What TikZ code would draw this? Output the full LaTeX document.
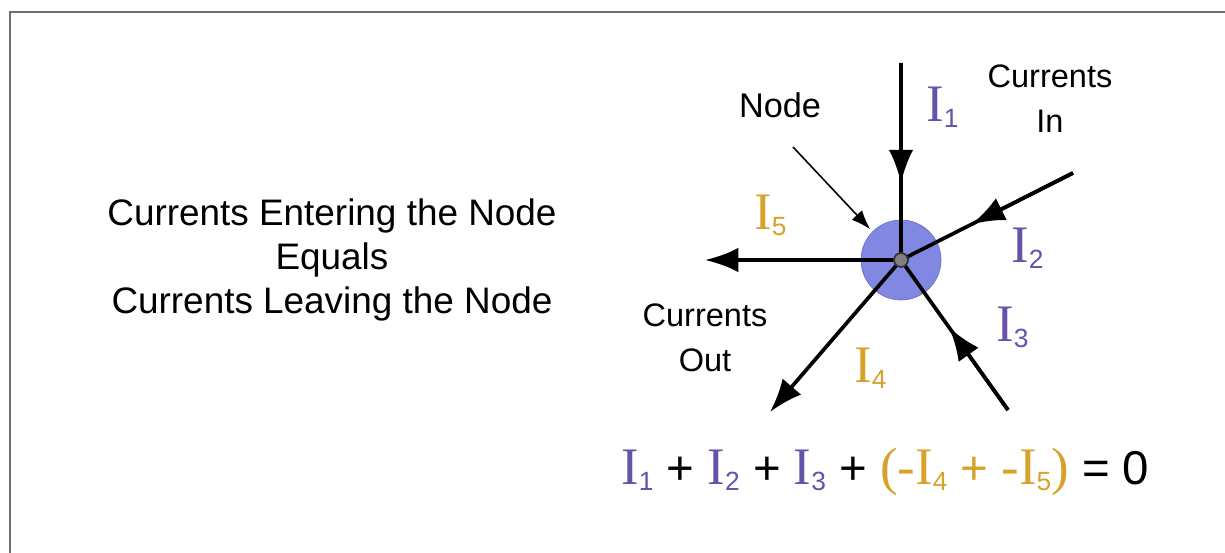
\documentclass[tikz,border=0pt]{standalone}
\usepackage{fontspec}
\setmainfont{Liberation Sans}
\newfontfamily\serifI{Liberation Serif}
\usepackage{tikz}
\usetikzlibrary{arrows.meta,calc}
\usepackage{xcolor}

\definecolor{inclr}{RGB}{102,82,170}
\definecolor{outclr}{RGB}{214,162,42}
\definecolor{nodeclr}{RGB}{128,136,226}
\definecolor{frameclr}{RGB}{110,110,110}

% current symbol: serif I with a small sans subscript
\newcommand{\Icur}[1]{{\serifI\fontsize{30}{32}\selectfont I}\raisebox{-3pt}{\fontsize{15}{16}\selectfont #1}}
\newcommand{\serifbig}{\serifI\fontsize{30}{32}\selectfont}

\tikzset{
  wire/.style={line width=2.1pt},
  bighead/.style={-{Latex[length=19pt,width=14pt]}},
  lbl/.style={font=\fontsize{18.5}{25.5}\selectfont, align=center, inner sep=0pt},
  curlbl/.style={anchor=base west, inner sep=0pt},
}

\begin{document}
\begin{tikzpicture}[x=0.02cm, y=-0.02cm]

  \useasboundingbox (0,0) rectangle (1225,553);

  % Frame
  \draw[frameclr, line width=1.6pt] (10,553) -- (10,12) -- (1225,12);

  % Junction
  \node[circle, fill=nodeclr, draw=nodeclr!85!black, minimum size=1.6cm, inner sep=0pt] (junction) at (901,260) {};

  % Wire ends
  \coordinate (in1) at (901,63);
  \coordinate (in2) at (1073,173);
  \coordinate (in3) at (1008,410);
  \coordinate (out4) at (770,412);
  \coordinate (out5) at (705,260);

  % Wires
  \draw[wire] (in1) -- (junction.center);
  \draw[wire] (in2) -- (junction.center);
  \draw[wire] (in3) -- (junction.center);
  \draw[wire, bighead] (in1) -- ($(in1)!0.61!(junction.center)$);
  \draw[wire, bighead] (in2) -- ($(in2)!0.59!(junction.center)$);
  \draw[wire, bighead] (in3) -- ($(in3)!0.55!(junction.center)$);
  \draw[wire, bighead] (junction.center) -- (out4);
  \draw[wire, bighead] (junction.center) -- (out5);

  % Dot
  \node[circle, fill=gray, draw=black!80, line width=1pt, minimum size=0.28cm, inner sep=0pt] (dot) at (junction.center) {};

  % Labels
  \node[lbl, font=\fontsize{19.5}{25}\selectfont] (nodelbl) at (780,105.5) {Node};
  \coordinate (pointer) at (793,147);
  \draw[line width=0.9pt, -{Latex[length=11pt,width=8pt]}] (pointer) -- ($(junction.center)!1.08!(junction.135)$);
  \node[lbl] (inlbl) at (1050,98.5) {Currents\\In};
  \node[lbl] (outlbl) at (705,337.5) {Currents\\Out};

  \node[curlbl, text=inclr] (i1) at (926,122) {\Icur{1}};
  \node[curlbl, text=inclr] (i2) at (1011,263) {\Icur{2}};
  \node[curlbl, text=inclr] (i3) at (996,342) {\Icur{3}};
  \node[curlbl, text=outclr] (i4) at (854,383) {\Icur{4}};
  \node[curlbl, text=outclr] (i5) at (754,230) {\Icur{5}};

  % Rule text
  \node[font=\fontsize{21}{25}\selectfont, align=center, inner sep=0pt] (rule) at (332,260)
    {Currents Entering the Node\\Equals\\Currents Leaving the Node};

  % Equation
  \node[curlbl, font=\fontsize{27}{30}\selectfont] (kcl) at (621,485)
    {{\color{inclr}\Icur{1}} + {\color{inclr}\Icur{2}} + {\color{inclr}\Icur{3}} +
     {\color{outclr}{\serifbig(-}\Icur{4} + {\serifbig -}\Icur{5}{\serifbig)}} = 0};

\end{tikzpicture}
\end{document}
